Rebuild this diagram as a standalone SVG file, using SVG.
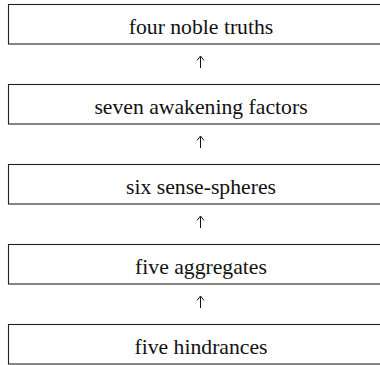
<svg xmlns="http://www.w3.org/2000/svg" width="380" height="365" viewBox="0 0 380 365">
<style>
.box{fill:#fff;stroke:#222;stroke-width:1.1}
.lbl{font-family:"Liberation Serif","DejaVu Serif",serif;font-size:21.7px;fill:#111;text-anchor:middle}
.arr{fill:none;stroke:#111;stroke-width:1}
</style>
<rect width="380" height="365" fill="#fff"/>
<g id="n1"><rect class="box" x="8.5" y="4.5" width="385" height="39.5"/><text class="lbl" x="201" y="33.5">four noble truths</text></g>
<g id="n2"><rect class="box" x="8.5" y="84.5" width="385" height="39.5"/><text class="lbl" x="201" y="113.5">seven awakening factors</text></g>
<g id="n3"><rect class="box" x="8.5" y="164.5" width="385" height="39.5"/><text class="lbl" x="201" y="193.5">six sense-spheres</text></g>
<g id="n4"><rect class="box" x="8.5" y="244.5" width="385" height="39.5"/><text class="lbl" x="201" y="273.5">five aggregates</text></g>
<g id="n5"><rect class="box" x="8.5" y="324.5" width="385" height="39.5"/><text class="lbl" x="201" y="353.5">five hindrances</text></g>
<g id="connectors">
<path class="arr" d="M200.5 68V56.5M197 60.5L200.5 56L204 60.5"/>
<path class="arr" d="M200.5 148V136.5M197 140.5L200.5 136L204 140.5"/>
<path class="arr" d="M200.5 228V216.5M197 220.5L200.5 216L204 220.5"/>
<path class="arr" d="M200.5 308V296.5M197 300.5L200.5 296L204 300.5"/>
</g>
</svg>
